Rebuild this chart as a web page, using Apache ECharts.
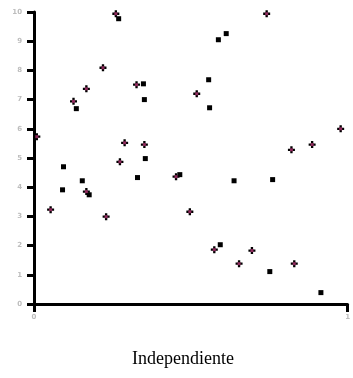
<!DOCTYPE html>
<html>
<head>
<meta charset="utf-8">
<style>
  html, body { margin: 0; padding: 0; background: #fff; }
  #chart { width: 353px; height: 378px; }
</style>
<script src="https://cdn.jsdelivr.net/npm/echarts@6/dist/echarts.min.js"></script>
</head>
<body>
<div id="chart"></div>
<script>
// Observations drawn with a cross marker: [x, y]
const crossPoints = [
  [0.009, 5.73], [0.053, 3.23], [0.126, 6.94], [0.167, 7.37], [0.167, 3.85],
  [0.220, 8.09], [0.230, 2.99], [0.261, 9.94], [0.274, 4.87], [0.289, 5.52],
  [0.327, 7.51], [0.352, 5.46], [0.453, 4.36], [0.497, 3.16], [0.519, 7.20],
  [0.575, 1.86], [0.654, 1.38], [0.695, 1.83], [0.742, 9.94], [0.821, 5.28],
  [0.830, 1.38], [0.887, 5.46], [0.978, 6.00]
];

// Observations drawn with a square marker: [x, y]
const squarePoints = [
  [0.094, 4.70], [0.091, 3.91], [0.135, 6.69], [0.154, 4.22], [0.176, 3.74],
  [0.270, 9.77], [0.349, 7.54], [0.352, 7.00], [0.355, 4.98], [0.330, 4.33],
  [0.465, 4.43], [0.557, 7.68], [0.560, 6.72], [0.594, 2.03], [0.588, 9.05],
  [0.613, 9.26], [0.638, 4.22], [0.752, 1.11], [0.761, 4.26], [0.915, 0.39]
];

const xTicks = [0, 1];
const yTicks = [0, 1, 2, 3, 4, 5, 6, 7, 8, 9, 10];
const xTitle = 'Independiente';

const chart = echarts.init(document.getElementById('chart'), null, { renderer: 'canvas' });

const tickLabel = {
  color: '#bdbdbd',
  fontSize: 7,
  fontWeight: 'bold',
  fontFamily: 'DejaVu Sans'
};

chart.setOption({
  animation: false,
  title: {
    text: xTitle,
    left: 127,
    top: 345,
    textStyle: {
      fontFamily: 'Liberation Serif',
      fontWeight: 'normal',
      fontSize: 18,
      color: '#000'
    }
  },
  grid: { left: 34, top: 12, right: 0, bottom: 74, containLabel: false },
  xAxis: {
    type: 'value',
    min: xTicks[0],
    max: xTicks[xTicks.length - 1],
    interval: 1,
    splitLine: { show: false },
    axisLine: { show: true, lineStyle: { color: '#000', width: 3 } },
    axisTick: { show: true, length: 8, lineStyle: { color: '#000', width: 3 } },
    axisLabel: Object.assign({ margin: 10 }, tickLabel)
  },
  yAxis: {
    type: 'value',
    min: yTicks[0],
    max: yTicks[yTicks.length - 1],
    interval: 1,
    splitLine: { show: false },
    axisLine: { show: true, lineStyle: { color: '#000', width: 3 } },
    axisTick: { show: true, length: 7, lineStyle: { color: '#000', width: 3 } },
    axisLabel: Object.assign({ margin: 12 }, tickLabel)
  },
  series: [
    {
      type: 'scatter',
      data: squarePoints,
      symbol: 'rect',
      symbolSize: 5,
      itemStyle: { color: '#000', opacity: 1 }
    },
    {
      type: 'scatter',
      data: crossPoints,
      symbol: 'path://M2,0H4V2H6V4H4V6H2V4H0V2H2Z',
      symbolSize: 7,
      itemStyle: { color: '#000', opacity: 1 }
    },
    {
      type: 'scatter',
      data: crossPoints,
      symbol: 'rect',
      symbolSize: 3,
      itemStyle: { color: '#8e2a5c', opacity: 1 }
    }
  ]
});
</script>
</body>
</html>
